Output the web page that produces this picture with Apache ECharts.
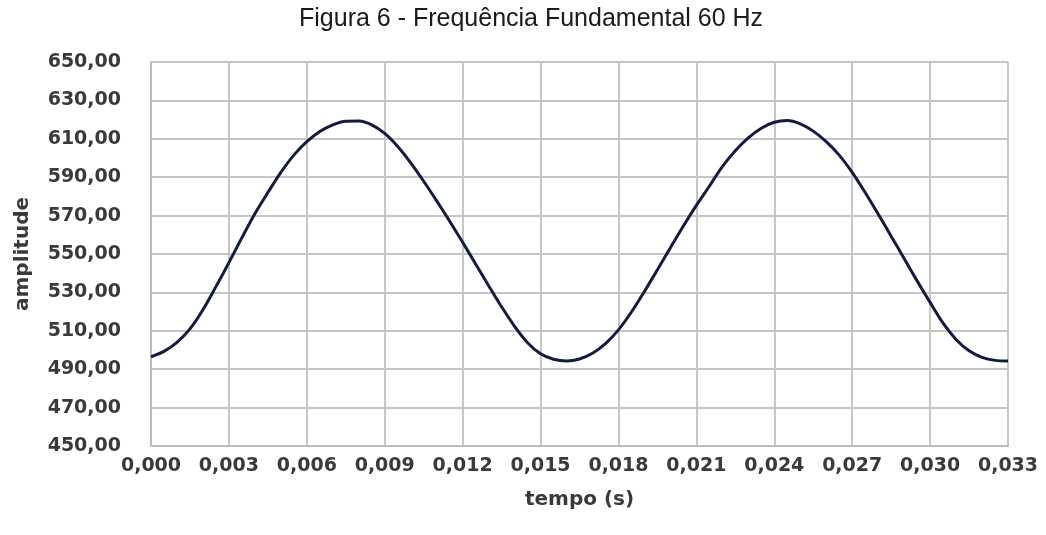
<!DOCTYPE html>
<html>
<head>
<meta charset="utf-8">
<script src="https://cdn.jsdelivr.net/npm/echarts@6/dist/echarts.min.js"></script>
<style>
html,body{margin:0;padding:0;background:#fff;}
#c{width:1046px;height:535px;}
</style>
</head>
<body>
<div id="c"></div>
<script>
const titleText = 'Figura 6 - Frequência Fundamental 60 Hz';
const xName = 'tempo (s)';
const yName = 'amplitude';
const times = [0, 0.0005, 0.001, 0.0015, 0.002, 0.0025, 0.003, 0.0035, 0.004, 0.0045,
  0.005, 0.0055, 0.006, 0.0065, 0.007, 0.0075, 0.008, 0.0085, 0.009, 0.0095,
  0.010, 0.0105, 0.011, 0.0115, 0.012, 0.0125, 0.013, 0.0135, 0.014, 0.0145,
  0.015, 0.0155, 0.016, 0.0165, 0.017, 0.0175, 0.018, 0.0185, 0.019, 0.0195,
  0.020, 0.0205, 0.021, 0.0215, 0.022, 0.0225, 0.023, 0.0235, 0.024, 0.0245,
  0.025, 0.0255, 0.026, 0.0265, 0.027, 0.0275, 0.028, 0.0285, 0.029, 0.0295,
  0.030, 0.0305, 0.031, 0.0315, 0.032, 0.0325, 0.033];
const amplitudes = [496.5, 499.3, 504, 511, 521, 533, 545.5, 558.5, 571, 582,
  592.5, 601.5, 608.5, 613.8, 617.3, 619.2, 619.3, 617.3, 612.8, 606,
  597.5, 587.9, 577.7, 567.1, 556.1, 544.8, 533.5, 522.5, 512.3, 503.8,
  498, 495.2, 494.3, 495.3, 498.3, 503.3, 510.5, 519.8, 530.5, 541.8,
  553.3, 564.6, 575.3, 585.3, 595.5, 603.8, 610.5, 615.5, 618.6, 619.5,
  617.8, 614, 608.5, 601.5, 592.5, 582, 570.8, 559.3, 547.6, 536,
  524.8, 514, 505.5, 499.6, 496.2, 494.6, 494.3];

const chart = echarts.init(document.getElementById('c'), null, {renderer: 'canvas'});
const labelFont = {fontFamily: 'DejaVu Sans', fontWeight: 'bold', fontSize: 19, color: '#3a3a3a'};
chart.setOption({
  animation: false,
  backgroundColor: '#ffffff',
  title: {
    text: titleText,
    left: 294,
    top: 2,
    textStyle: {fontFamily: 'Liberation Sans', fontWeight: 'normal', fontSize: 25, color: '#1a1a1a'}
  },
  grid: {left: 151, right: 38, top: 62, bottom: 89, containLabel: false},
  xAxis: {
    type: 'value',
    min: 0,
    max: 0.033,
    interval: 0.003,
    name: xName,
    nameLocation: 'middle',
    nameGap: 44,
    nameTextStyle: {fontFamily: 'DejaVu Sans', fontWeight: 'bold', fontSize: 20, color: '#3a3a3a'},
    axisLine: {show: true, lineStyle: {color: '#bdbdbd', width: 2}},
    axisTick: {show: false},
    axisLabel: Object.assign({margin: 11, formatter: v => v.toFixed(3).replace('.', ',')}, labelFont),
    splitLine: {show: true, lineStyle: {color: '#c6c6c6', width: 2}}
  },
  yAxis: {
    type: 'value',
    min: 450,
    max: 650,
    interval: 20,
    name: yName,
    nameLocation: 'middle',
    nameGap: 118,
    nameRotate: 90,
    nameTextStyle: {fontFamily: 'DejaVu Sans', fontWeight: 'bold', fontSize: 20, color: '#3a3a3a'},
    axisLine: {show: true, lineStyle: {color: '#bdbdbd', width: 2}},
    axisTick: {show: false},
    axisLabel: Object.assign({margin: 30, formatter: v => v.toFixed(2).replace('.', ',')}, labelFont),
    splitLine: {show: true, lineStyle: {color: '#c6c6c6', width: 2}}
  },
  series: [{
    type: 'line',
    data: times.map((t, i) => [t, amplitudes[i]]),
    smooth: 0.3,
    showSymbol: false,
    lineStyle: {color: '#141c3c', width: 3}
  }]
});
</script>
</body>
</html>
